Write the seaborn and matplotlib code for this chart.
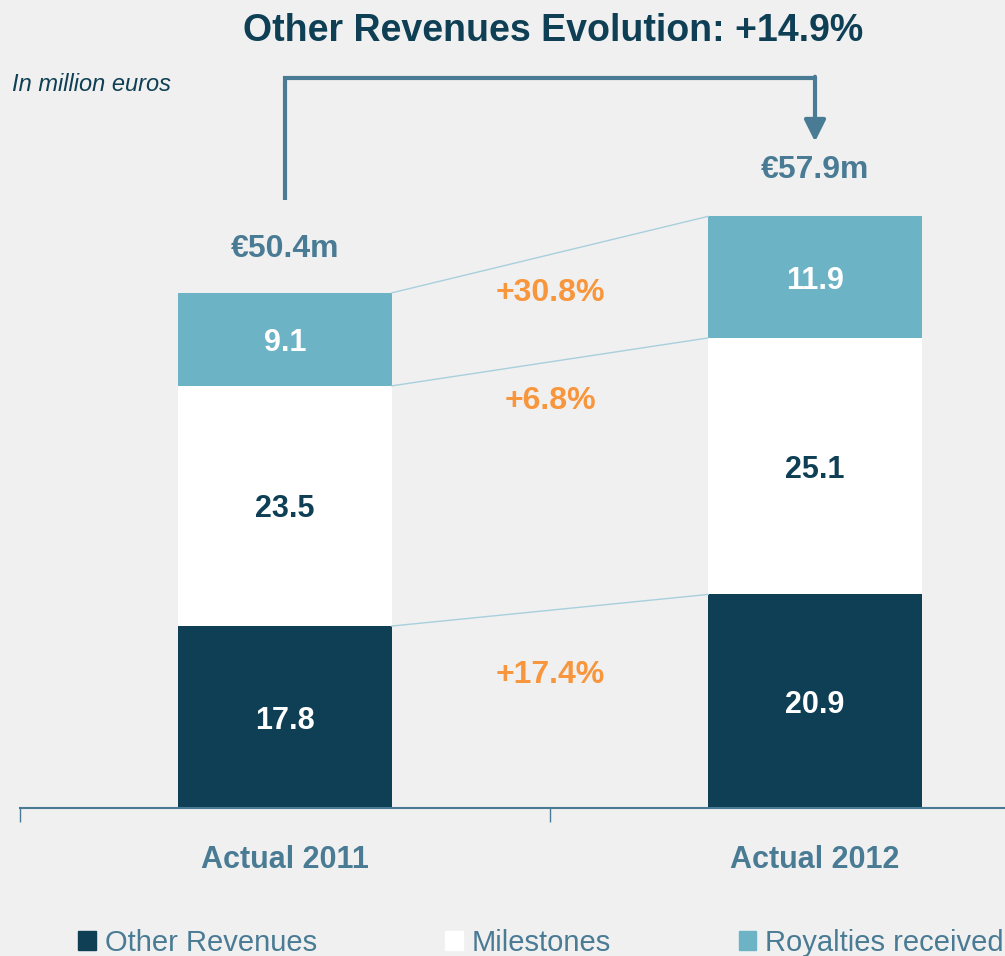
import matplotlib
matplotlib.use("Agg")
import matplotlib.pyplot as plt
import matplotlib.patches as mpatches
import seaborn as sns
import warnings

warnings.filterwarnings("ignore")

# data (million euros)
years = ["Actual 2011", "Actual 2012"]
other_revenues = [17.8, 20.9]
milestones = [23.5, 25.1]
royalties = [9.1, 11.9]
totals_txt = ["€50.4m", "€57.9m"]
growth_txt = ["+17.4%", "+6.8%", "+30.8%"]

NAVY = "#0E3F54"
STEEL = "#4A7B94"
LIGHT = "#6DB3C6"
ORANGE = "#F7963C"
BG = "#F0F0F0"

sns.set_style("white")
plt.rcParams['font.family'] = ['Liberation Sans', 'DejaVu Sans']

fig = plt.figure(figsize=(10.05, 9.56), dpi=100, facecolor=BG)
ax = fig.add_axes([20 / 1005, 148 / 956, 985 / 1005, 808 / 956])
ax.set_facecolor(BG)

bw = 0.402
bottom2 = [a + b for a, b in zip(other_revenues, milestones)]
totals = [a + b for a, b in zip(bottom2, royalties)]

sns.barplot(x=years, y=other_revenues, color=NAVY, width=bw, saturation=1, ax=ax, linewidth=0)
sns.barplot(x=years, y=milestones, bottom=other_revenues, color="white", width=bw, saturation=1, ax=ax, linewidth=0)
sns.barplot(x=years, y=royalties, bottom=bottom2, color=LIGHT, width=bw, saturation=1, ax=ax, linewidth=0)

# segment labels
lab_kw = dict(ha="center", va="center_baseline", fontsize=22, fontweight="bold")
for i in range(2):
    ax.text(i, other_revenues[i] / 2, f"{other_revenues[i]:.1f}", color="white", **lab_kw)
    ax.text(i, other_revenues[i] + milestones[i] / 2, f"{milestones[i]:.1f}", color=NAVY, **lab_kw)
    ax.text(i, bottom2[i] + royalties[i] / 2, f"{royalties[i]:.1f}", color="white", **lab_kw)
    ax.text(i, totals[i] + 4.6 + 0.3 * i, totals_txt[i], ha="center", va="center_baseline",
            color=STEEL, fontsize=23, fontweight="bold")

# connector lines between stacks
for lvl0, lvl1 in zip([other_revenues[0], bottom2[0], totals[0]], [other_revenues[1], bottom2[1], totals[1]]):
    ax.plot([bw / 2, 1 - bw / 2], [lvl0, lvl1], color="#A8D0DC", lw=1)

# growth labels
for txt, y in zip(growth_txt, [13.4, 40.2, 50.7]):
    ax.text(0.5, y, txt, ha="center", va="center_baseline", color=ORANGE, fontsize=23, fontweight="bold")

# bracket with arrow
ax.plot([0, 0, 1], [59.5, 71.4, 71.4], color=STEEL, lw=3, solid_capstyle="butt", solid_joinstyle="miter")
ax.annotate("", xy=(1, 65.2), xytext=(1, 71.55),
            arrowprops=dict(arrowstyle="-|>,head_length=1.3,head_width=0.65", color=STEEL, lw=3,
                            shrinkA=0, shrinkB=0))

# axis styling
for s in ["top", "right", "left"]:
    ax.spines[s].set_visible(False)
ax.spines["bottom"].set_color(STEEL)
ax.spines["bottom"].set_linewidth(1.5)
ax.set_yticks([])
ax.set_xticks([-0.5, 0.5, 1.5])
ax.set_xticklabels([])
ax.tick_params(axis="x", direction="out", length=10, width=1, color=STEEL, bottom=True)
ax.set_xlim(-0.5, -0.5 + 985 / 530)
ax.set_ylim(0, 808 / 10.22)
for i, lab in enumerate(years):
    ax.text(i, -4.75, lab, ha="center", va="center_baseline", color=STEEL, fontsize=22, fontweight="bold")

fig.text(553 / 1005, 1 - 27 / 956, "Other Revenues Evolution: +14.9%", ha="center", va="center_baseline",
         color=NAVY, fontsize=27, fontweight="bold")
fig.text(12 / 1005, 1 - 82 / 956, "In million euros", ha="left", va="center_baseline",
         color=NAVY, fontsize=17, style="italic")

handles = [mpatches.Patch(color=NAVY, label="Other Revenues"),
           mpatches.Patch(color="white", label="Milestones"),
           mpatches.Patch(color=LIGHT, label="Royalties received")]
leg = fig.legend(handles=handles, loc="center", bbox_to_anchor=(541 / 1005, 1 - 943 / 956), ncol=3,
                 frameon=False, fontsize=21, handlelength=0.6, handleheight=0.6, handletextpad=0.3,
                 columnspacing=4.4, borderpad=0, borderaxespad=0)
for t in leg.get_texts():
    t.set_color(STEEL)

fig.savefig("out.png", dpi=100, facecolor=BG)
